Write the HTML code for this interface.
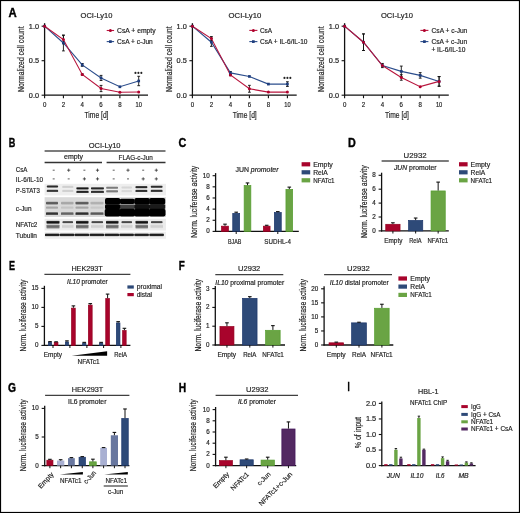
<!DOCTYPE html>
<html><head><meta charset="utf-8"><style>
html,body{margin:0;padding:0;background:#fff;}
body{width:520px;height:513px;overflow:hidden;}
svg{display:block;will-change:transform;}
svg text{font-family:"Liberation Sans", sans-serif;fill:#1e1e1e;stroke:#1e1e1e;stroke-width:0.18px;}
</style></head><body>
<svg width="520" height="513" viewBox="0 0 520 513">
<defs><linearGradient id="gv" x1="0" y1="0" x2="0" y2="1"><stop offset="0" stop-color="#000" stop-opacity="0"/><stop offset="0.28" stop-color="#000" stop-opacity="0.85"/><stop offset="0.5" stop-color="#000" stop-opacity="1"/><stop offset="0.72" stop-color="#000" stop-opacity="0.85"/><stop offset="1" stop-color="#000" stop-opacity="0"/></linearGradient></defs>
<rect x="0" y="0" width="520" height="513" fill="#fff"/>
<text x="8.60" y="16.90" font-size="12.6" font-weight="bold" textLength="8.20" lengthAdjust="spacingAndGlyphs" style="stroke:#000;stroke-width:0.4px;fill:#000">A</text>
<line x1="44.60" y1="23.20" x2="44.60" y2="95.80" stroke="#111" stroke-width="1.3"/>
<line x1="44.00" y1="95.20" x2="148.00" y2="95.20" stroke="#111" stroke-width="1.3"/>
<line x1="41.60" y1="26.20" x2="44.60" y2="26.20" stroke="#111" stroke-width="1.1"/>
<text x="39.00" y="28.50" font-size="6.7" text-anchor="end" textLength="10.20" lengthAdjust="spacingAndGlyphs">1.0</text>
<line x1="41.60" y1="60.70" x2="44.60" y2="60.70" stroke="#111" stroke-width="1.1"/>
<text x="39.00" y="63.00" font-size="6.7" text-anchor="end" textLength="10.20" lengthAdjust="spacingAndGlyphs">0.5</text>
<line x1="41.60" y1="95.20" x2="44.60" y2="95.20" stroke="#111" stroke-width="1.1"/>
<text x="39.00" y="97.50" font-size="6.7" text-anchor="end" textLength="10.20" lengthAdjust="spacingAndGlyphs">0.0</text>
<line x1="44.60" y1="95.20" x2="44.60" y2="98.20" stroke="#111" stroke-width="1.1"/>
<text x="44.60" y="106.60" font-size="6.6" text-anchor="middle" textLength="3.40" lengthAdjust="spacingAndGlyphs">0</text>
<line x1="63.42" y1="95.20" x2="63.42" y2="98.20" stroke="#111" stroke-width="1.1"/>
<text x="63.42" y="106.60" font-size="6.6" text-anchor="middle" textLength="3.40" lengthAdjust="spacingAndGlyphs">2</text>
<line x1="82.24" y1="95.20" x2="82.24" y2="98.20" stroke="#111" stroke-width="1.1"/>
<text x="82.24" y="106.60" font-size="6.6" text-anchor="middle" textLength="3.40" lengthAdjust="spacingAndGlyphs">4</text>
<line x1="101.06" y1="95.20" x2="101.06" y2="98.20" stroke="#111" stroke-width="1.1"/>
<text x="101.06" y="106.60" font-size="6.6" text-anchor="middle" textLength="3.40" lengthAdjust="spacingAndGlyphs">6</text>
<line x1="119.88" y1="95.20" x2="119.88" y2="98.20" stroke="#111" stroke-width="1.1"/>
<text x="119.88" y="106.60" font-size="6.6" text-anchor="middle" textLength="3.40" lengthAdjust="spacingAndGlyphs">8</text>
<line x1="138.70" y1="95.20" x2="138.70" y2="98.20" stroke="#111" stroke-width="1.1"/>
<text x="138.70" y="106.60" font-size="6.6" text-anchor="middle" textLength="6.40" lengthAdjust="spacingAndGlyphs">10</text>
<text x="96.50" y="118.20" font-size="8.4" text-anchor="middle" textLength="24.00" lengthAdjust="spacingAndGlyphs">Time [d]</text>
<text x="23.70" y="92.00" font-size="8.6" textLength="65.60" lengthAdjust="spacingAndGlyphs" transform="rotate(-90 23.70 92.00)">Normalized cell count</text>
<text x="96.50" y="17.60" font-size="7.2" text-anchor="middle" textLength="31.80" lengthAdjust="spacingAndGlyphs">OCI-Ly10</text>
<line x1="63.42" y1="35.03" x2="63.42" y2="50.90" stroke="#111" stroke-width="0.9"/>
<line x1="62.02" y1="35.03" x2="64.82" y2="35.03" stroke="#111" stroke-width="0.9"/>
<line x1="62.02" y1="50.90" x2="64.82" y2="50.90" stroke="#111" stroke-width="0.9"/>
<line x1="63.42" y1="35.38" x2="63.42" y2="43.66" stroke="#111" stroke-width="0.9"/>
<line x1="62.02" y1="35.38" x2="64.82" y2="35.38" stroke="#111" stroke-width="0.9"/>
<line x1="62.02" y1="43.66" x2="64.82" y2="43.66" stroke="#111" stroke-width="0.9"/>
<line x1="82.24" y1="63.53" x2="82.24" y2="66.29" stroke="#111" stroke-width="0.9"/>
<line x1="80.84" y1="63.53" x2="83.64" y2="63.53" stroke="#111" stroke-width="0.9"/>
<line x1="80.84" y1="66.29" x2="83.64" y2="66.29" stroke="#111" stroke-width="0.9"/>
<line x1="82.24" y1="73.81" x2="82.24" y2="75.19" stroke="#111" stroke-width="0.9"/>
<line x1="80.84" y1="73.81" x2="83.64" y2="73.81" stroke="#111" stroke-width="0.9"/>
<line x1="80.84" y1="75.19" x2="83.64" y2="75.19" stroke="#111" stroke-width="0.9"/>
<line x1="101.06" y1="75.40" x2="101.06" y2="80.50" stroke="#111" stroke-width="0.9"/>
<line x1="99.66" y1="75.40" x2="102.46" y2="75.40" stroke="#111" stroke-width="0.9"/>
<line x1="99.66" y1="80.50" x2="102.46" y2="80.50" stroke="#111" stroke-width="0.9"/>
<line x1="101.06" y1="85.40" x2="101.06" y2="91.61" stroke="#111" stroke-width="0.9"/>
<line x1="99.66" y1="85.40" x2="102.46" y2="85.40" stroke="#111" stroke-width="0.9"/>
<line x1="99.66" y1="91.61" x2="102.46" y2="91.61" stroke="#111" stroke-width="0.9"/>
<line x1="138.70" y1="76.29" x2="138.70" y2="85.68" stroke="#111" stroke-width="0.9"/>
<line x1="137.30" y1="76.29" x2="140.10" y2="76.29" stroke="#111" stroke-width="0.9"/>
<line x1="137.30" y1="85.68" x2="140.10" y2="85.68" stroke="#111" stroke-width="0.9"/>
<polyline points="44.60,26.20 63.42,42.97 82.24,64.91 101.06,77.95 119.88,86.78 138.70,80.99" fill="none" stroke="#2b4d8c" stroke-width="1.1"/>
<polyline points="44.60,26.20 63.42,39.52 82.24,74.50 101.06,88.51 119.88,92.30 138.70,92.03" fill="none" stroke="#b8163e" stroke-width="1.1"/>
<rect x="43.25" y="24.85" width="2.7" height="2.7" fill="#1d3c7c"/>
<rect x="62.07" y="41.62" width="2.7" height="2.7" fill="#1d3c7c"/>
<rect x="80.89" y="63.56" width="2.7" height="2.7" fill="#1d3c7c"/>
<rect x="99.71" y="76.60" width="2.7" height="2.7" fill="#1d3c7c"/>
<rect x="118.53" y="85.43" width="2.7" height="2.7" fill="#1d3c7c"/>
<rect x="137.35" y="79.64" width="2.7" height="2.7" fill="#1d3c7c"/>
<circle cx="44.60" cy="26.20" r="1.5" fill="#b0002c"/>
<circle cx="63.42" cy="39.52" r="1.5" fill="#b0002c"/>
<circle cx="82.24" cy="74.50" r="1.5" fill="#b0002c"/>
<circle cx="101.06" cy="88.51" r="1.5" fill="#b0002c"/>
<circle cx="119.88" cy="92.30" r="1.5" fill="#b0002c"/>
<circle cx="138.70" cy="92.03" r="1.5" fill="#b0002c"/>
<circle cx="135.45" cy="72.90" r="1.05" fill="#222"/>
<circle cx="138.40" cy="72.90" r="1.05" fill="#222"/>
<circle cx="141.35" cy="72.90" r="1.05" fill="#222"/>
<line x1="106.70" y1="30.50" x2="114.10" y2="30.50" stroke="#b8163e" stroke-width="1.1"/>
<circle cx="110.40" cy="30.50" r="1.5" fill="#b0002c"/>
<text x="117.10" y="32.80" font-size="6.8" textLength="38.50" lengthAdjust="spacingAndGlyphs">CsA + empty</text>
<line x1="106.70" y1="41.60" x2="114.10" y2="41.60" stroke="#2b4d8c" stroke-width="1.1"/>
<rect x="109.05" y="40.25" width="2.7" height="2.7" fill="#1d3c7c"/>
<text x="117.10" y="43.90" font-size="6.8" textLength="35.70" lengthAdjust="spacingAndGlyphs">CsA + c-Jun</text>
<line x1="192.40" y1="23.20" x2="192.40" y2="95.80" stroke="#111" stroke-width="1.3"/>
<line x1="191.80" y1="95.20" x2="296.70" y2="95.20" stroke="#111" stroke-width="1.3"/>
<line x1="189.40" y1="26.20" x2="192.40" y2="26.20" stroke="#111" stroke-width="1.1"/>
<text x="186.80" y="28.50" font-size="6.7" text-anchor="end" textLength="10.20" lengthAdjust="spacingAndGlyphs">1.0</text>
<line x1="189.40" y1="60.70" x2="192.40" y2="60.70" stroke="#111" stroke-width="1.1"/>
<text x="186.80" y="63.00" font-size="6.7" text-anchor="end" textLength="10.20" lengthAdjust="spacingAndGlyphs">0.5</text>
<line x1="189.40" y1="95.20" x2="192.40" y2="95.20" stroke="#111" stroke-width="1.1"/>
<text x="186.80" y="97.50" font-size="6.7" text-anchor="end" textLength="10.20" lengthAdjust="spacingAndGlyphs">0.0</text>
<line x1="192.40" y1="95.20" x2="192.40" y2="98.20" stroke="#111" stroke-width="1.1"/>
<text x="192.40" y="106.60" font-size="6.6" text-anchor="middle" textLength="3.40" lengthAdjust="spacingAndGlyphs">0</text>
<line x1="211.40" y1="95.20" x2="211.40" y2="98.20" stroke="#111" stroke-width="1.1"/>
<text x="211.40" y="106.60" font-size="6.6" text-anchor="middle" textLength="3.40" lengthAdjust="spacingAndGlyphs">2</text>
<line x1="230.40" y1="95.20" x2="230.40" y2="98.20" stroke="#111" stroke-width="1.1"/>
<text x="230.40" y="106.60" font-size="6.6" text-anchor="middle" textLength="3.40" lengthAdjust="spacingAndGlyphs">4</text>
<line x1="249.40" y1="95.20" x2="249.40" y2="98.20" stroke="#111" stroke-width="1.1"/>
<text x="249.40" y="106.60" font-size="6.6" text-anchor="middle" textLength="3.40" lengthAdjust="spacingAndGlyphs">6</text>
<line x1="268.40" y1="95.20" x2="268.40" y2="98.20" stroke="#111" stroke-width="1.1"/>
<text x="268.40" y="106.60" font-size="6.6" text-anchor="middle" textLength="3.40" lengthAdjust="spacingAndGlyphs">8</text>
<line x1="287.40" y1="95.20" x2="287.40" y2="98.20" stroke="#111" stroke-width="1.1"/>
<text x="287.40" y="106.60" font-size="6.6" text-anchor="middle" textLength="6.40" lengthAdjust="spacingAndGlyphs">10</text>
<text x="244.75" y="118.20" font-size="8.4" text-anchor="middle" textLength="24.00" lengthAdjust="spacingAndGlyphs">Time [d]</text>
<text x="171.50" y="92.00" font-size="8.6" textLength="65.60" lengthAdjust="spacingAndGlyphs" transform="rotate(-90 171.50 92.00)">Normalized cell count</text>
<text x="244.95" y="17.60" font-size="7.2" text-anchor="middle" textLength="32.70" lengthAdjust="spacingAndGlyphs">OCI-Ly10</text>
<line x1="211.40" y1="38.07" x2="211.40" y2="46.35" stroke="#111" stroke-width="0.9"/>
<line x1="210.00" y1="38.07" x2="212.80" y2="38.07" stroke="#111" stroke-width="0.9"/>
<line x1="210.00" y1="46.35" x2="212.80" y2="46.35" stroke="#111" stroke-width="0.9"/>
<line x1="211.40" y1="36.55" x2="211.40" y2="40.69" stroke="#111" stroke-width="0.9"/>
<line x1="210.00" y1="36.55" x2="212.80" y2="36.55" stroke="#111" stroke-width="0.9"/>
<line x1="210.00" y1="40.69" x2="212.80" y2="40.69" stroke="#111" stroke-width="0.9"/>
<line x1="230.40" y1="71.53" x2="230.40" y2="74.29" stroke="#111" stroke-width="0.9"/>
<line x1="229.00" y1="71.53" x2="231.80" y2="71.53" stroke="#111" stroke-width="0.9"/>
<line x1="229.00" y1="74.29" x2="231.80" y2="74.29" stroke="#111" stroke-width="0.9"/>
<line x1="230.40" y1="74.29" x2="230.40" y2="75.67" stroke="#111" stroke-width="0.9"/>
<line x1="229.00" y1="74.29" x2="231.80" y2="74.29" stroke="#111" stroke-width="0.9"/>
<line x1="229.00" y1="75.67" x2="231.80" y2="75.67" stroke="#111" stroke-width="0.9"/>
<line x1="249.40" y1="85.33" x2="249.40" y2="92.23" stroke="#111" stroke-width="0.9"/>
<line x1="248.00" y1="85.33" x2="250.80" y2="85.33" stroke="#111" stroke-width="0.9"/>
<line x1="248.00" y1="92.23" x2="250.80" y2="92.23" stroke="#111" stroke-width="0.9"/>
<line x1="287.40" y1="81.75" x2="287.40" y2="86.44" stroke="#111" stroke-width="0.9"/>
<line x1="286.00" y1="81.75" x2="288.80" y2="81.75" stroke="#111" stroke-width="0.9"/>
<line x1="286.00" y1="86.44" x2="288.80" y2="86.44" stroke="#111" stroke-width="0.9"/>
<polyline points="192.40,26.20 211.40,42.21 230.40,72.91 249.40,76.43 268.40,84.09 287.40,84.09" fill="none" stroke="#2b4d8c" stroke-width="1.1"/>
<polyline points="192.40,26.20 211.40,38.62 230.40,74.98 249.40,88.78 268.40,92.09 287.40,92.09" fill="none" stroke="#b8163e" stroke-width="1.1"/>
<rect x="191.05" y="24.85" width="2.7" height="2.7" fill="#1d3c7c"/>
<rect x="210.05" y="40.86" width="2.7" height="2.7" fill="#1d3c7c"/>
<rect x="229.05" y="71.56" width="2.7" height="2.7" fill="#1d3c7c"/>
<rect x="248.05" y="75.08" width="2.7" height="2.7" fill="#1d3c7c"/>
<rect x="267.05" y="82.74" width="2.7" height="2.7" fill="#1d3c7c"/>
<rect x="286.05" y="82.74" width="2.7" height="2.7" fill="#1d3c7c"/>
<circle cx="192.40" cy="26.20" r="1.5" fill="#b0002c"/>
<circle cx="211.40" cy="38.62" r="1.5" fill="#b0002c"/>
<circle cx="230.40" cy="74.98" r="1.5" fill="#b0002c"/>
<circle cx="249.40" cy="88.78" r="1.5" fill="#b0002c"/>
<circle cx="268.40" cy="92.09" r="1.5" fill="#b0002c"/>
<circle cx="287.40" cy="92.09" r="1.5" fill="#b0002c"/>
<circle cx="284.45" cy="77.90" r="1.05" fill="#222"/>
<circle cx="287.40" cy="77.90" r="1.05" fill="#222"/>
<circle cx="290.35" cy="77.90" r="1.05" fill="#222"/>
<line x1="249.30" y1="30.40" x2="257.40" y2="30.40" stroke="#b8163e" stroke-width="1.1"/>
<circle cx="253.35" cy="30.40" r="1.5" fill="#b0002c"/>
<text x="259.90" y="32.70" font-size="6.8" textLength="12.20" lengthAdjust="spacingAndGlyphs">CsA</text>
<line x1="249.30" y1="41.60" x2="257.40" y2="41.60" stroke="#2b4d8c" stroke-width="1.1"/>
<rect x="252.00" y="40.25" width="2.7" height="2.7" fill="#1d3c7c"/>
<text x="259.90" y="43.90" font-size="6.8" textLength="47.60" lengthAdjust="spacingAndGlyphs">CsA + IL-6/IL-10</text>
<line x1="344.60" y1="23.20" x2="344.60" y2="95.80" stroke="#111" stroke-width="1.3"/>
<line x1="344.00" y1="95.20" x2="448.80" y2="95.20" stroke="#111" stroke-width="1.3"/>
<line x1="341.60" y1="26.20" x2="344.60" y2="26.20" stroke="#111" stroke-width="1.1"/>
<text x="339.00" y="28.50" font-size="6.7" text-anchor="end" textLength="10.20" lengthAdjust="spacingAndGlyphs">1.0</text>
<line x1="341.60" y1="60.70" x2="344.60" y2="60.70" stroke="#111" stroke-width="1.1"/>
<text x="339.00" y="63.00" font-size="6.7" text-anchor="end" textLength="10.20" lengthAdjust="spacingAndGlyphs">0.5</text>
<line x1="341.60" y1="95.20" x2="344.60" y2="95.20" stroke="#111" stroke-width="1.1"/>
<text x="339.00" y="97.50" font-size="6.7" text-anchor="end" textLength="10.20" lengthAdjust="spacingAndGlyphs">0.0</text>
<line x1="344.60" y1="95.20" x2="344.60" y2="98.20" stroke="#111" stroke-width="1.1"/>
<text x="344.60" y="106.60" font-size="6.6" text-anchor="middle" textLength="3.40" lengthAdjust="spacingAndGlyphs">0</text>
<line x1="363.50" y1="95.20" x2="363.50" y2="98.20" stroke="#111" stroke-width="1.1"/>
<text x="363.50" y="106.60" font-size="6.6" text-anchor="middle" textLength="3.40" lengthAdjust="spacingAndGlyphs">2</text>
<line x1="382.40" y1="95.20" x2="382.40" y2="98.20" stroke="#111" stroke-width="1.1"/>
<text x="382.40" y="106.60" font-size="6.6" text-anchor="middle" textLength="3.40" lengthAdjust="spacingAndGlyphs">4</text>
<line x1="401.30" y1="95.20" x2="401.30" y2="98.20" stroke="#111" stroke-width="1.1"/>
<text x="401.30" y="106.60" font-size="6.6" text-anchor="middle" textLength="3.40" lengthAdjust="spacingAndGlyphs">6</text>
<line x1="420.20" y1="95.20" x2="420.20" y2="98.20" stroke="#111" stroke-width="1.1"/>
<text x="420.20" y="106.60" font-size="6.6" text-anchor="middle" textLength="3.40" lengthAdjust="spacingAndGlyphs">8</text>
<line x1="439.10" y1="95.20" x2="439.10" y2="98.20" stroke="#111" stroke-width="1.1"/>
<text x="439.10" y="106.60" font-size="6.6" text-anchor="middle" textLength="6.40" lengthAdjust="spacingAndGlyphs">10</text>
<text x="396.90" y="118.20" font-size="8.4" text-anchor="middle" textLength="24.00" lengthAdjust="spacingAndGlyphs">Time [d]</text>
<text x="323.70" y="92.00" font-size="8.6" textLength="65.60" lengthAdjust="spacingAndGlyphs" transform="rotate(-90 323.70 92.00)">Normalized cell count</text>
<text x="397.00" y="17.60" font-size="7.2" text-anchor="middle" textLength="32.00" lengthAdjust="spacingAndGlyphs">OCI-Ly10</text>
<line x1="363.50" y1="33.93" x2="363.50" y2="50.49" stroke="#111" stroke-width="0.9"/>
<line x1="362.10" y1="33.93" x2="364.90" y2="33.93" stroke="#111" stroke-width="0.9"/>
<line x1="362.10" y1="50.49" x2="364.90" y2="50.49" stroke="#111" stroke-width="0.9"/>
<line x1="363.50" y1="33.93" x2="363.50" y2="50.49" stroke="#111" stroke-width="0.9"/>
<line x1="362.10" y1="33.93" x2="364.90" y2="33.93" stroke="#111" stroke-width="0.9"/>
<line x1="362.10" y1="50.49" x2="364.90" y2="50.49" stroke="#111" stroke-width="0.9"/>
<line x1="382.40" y1="63.46" x2="382.40" y2="67.60" stroke="#111" stroke-width="0.9"/>
<line x1="381.00" y1="63.46" x2="383.80" y2="63.46" stroke="#111" stroke-width="0.9"/>
<line x1="381.00" y1="67.60" x2="383.80" y2="67.60" stroke="#111" stroke-width="0.9"/>
<line x1="401.30" y1="66.08" x2="401.30" y2="76.71" stroke="#111" stroke-width="0.9"/>
<line x1="399.90" y1="66.08" x2="402.70" y2="66.08" stroke="#111" stroke-width="0.9"/>
<line x1="399.90" y1="76.71" x2="402.70" y2="76.71" stroke="#111" stroke-width="0.9"/>
<line x1="401.30" y1="74.71" x2="401.30" y2="80.23" stroke="#111" stroke-width="0.9"/>
<line x1="399.90" y1="74.71" x2="402.70" y2="74.71" stroke="#111" stroke-width="0.9"/>
<line x1="399.90" y1="80.23" x2="402.70" y2="80.23" stroke="#111" stroke-width="0.9"/>
<line x1="420.20" y1="72.64" x2="420.20" y2="78.16" stroke="#111" stroke-width="0.9"/>
<line x1="418.80" y1="72.64" x2="421.60" y2="72.64" stroke="#111" stroke-width="0.9"/>
<line x1="418.80" y1="78.16" x2="421.60" y2="78.16" stroke="#111" stroke-width="0.9"/>
<line x1="439.10" y1="76.57" x2="439.10" y2="86.23" stroke="#111" stroke-width="0.9"/>
<line x1="437.70" y1="76.57" x2="440.50" y2="76.57" stroke="#111" stroke-width="0.9"/>
<line x1="437.70" y1="86.23" x2="440.50" y2="86.23" stroke="#111" stroke-width="0.9"/>
<line x1="439.10" y1="76.57" x2="439.10" y2="86.23" stroke="#111" stroke-width="0.9"/>
<line x1="437.70" y1="76.57" x2="440.50" y2="76.57" stroke="#111" stroke-width="0.9"/>
<line x1="437.70" y1="86.23" x2="440.50" y2="86.23" stroke="#111" stroke-width="0.9"/>
<polyline points="344.60,26.20 363.50,42.21 382.40,65.53 401.30,71.40 420.20,75.40 439.10,81.40" fill="none" stroke="#2b4d8c" stroke-width="1.1"/>
<polyline points="344.60,26.20 363.50,42.21 382.40,65.53 401.30,77.47 420.20,86.64 439.10,81.40" fill="none" stroke="#b8163e" stroke-width="1.1"/>
<rect x="343.25" y="24.85" width="2.7" height="2.7" fill="#1d3c7c"/>
<rect x="362.15" y="40.86" width="2.7" height="2.7" fill="#1d3c7c"/>
<rect x="381.05" y="64.18" width="2.7" height="2.7" fill="#1d3c7c"/>
<rect x="399.95" y="70.05" width="2.7" height="2.7" fill="#1d3c7c"/>
<rect x="418.85" y="74.05" width="2.7" height="2.7" fill="#1d3c7c"/>
<rect x="437.75" y="80.05" width="2.7" height="2.7" fill="#1d3c7c"/>
<circle cx="344.60" cy="26.20" r="1.5" fill="#b0002c"/>
<circle cx="363.50" cy="42.21" r="1.5" fill="#b0002c"/>
<circle cx="382.40" cy="65.53" r="1.5" fill="#b0002c"/>
<circle cx="401.30" cy="77.47" r="1.5" fill="#b0002c"/>
<circle cx="420.20" cy="86.64" r="1.5" fill="#b0002c"/>
<circle cx="439.10" cy="81.40" r="1.5" fill="#b0002c"/>
<line x1="420.40" y1="30.40" x2="428.40" y2="30.40" stroke="#b8163e" stroke-width="1.1"/>
<circle cx="424.40" cy="30.40" r="1.5" fill="#b0002c"/>
<text x="431.60" y="32.70" font-size="6.8" textLength="35.70" lengthAdjust="spacingAndGlyphs">CsA + c-Jun</text>
<line x1="420.40" y1="41.60" x2="428.40" y2="41.60" stroke="#2b4d8c" stroke-width="1.1"/>
<rect x="423.05" y="40.25" width="2.7" height="2.7" fill="#1d3c7c"/>
<text x="431.40" y="43.90" font-size="6.8" textLength="35.70" lengthAdjust="spacingAndGlyphs">CsA + c-Jun</text>
<text x="431.40" y="52.00" font-size="6.8" textLength="34.00" lengthAdjust="spacingAndGlyphs">+ IL-6/IL-10</text>
<text x="8.70" y="146.60" font-size="12.6" font-weight="bold" textLength="6.60" lengthAdjust="spacingAndGlyphs" style="stroke:#000;stroke-width:0.4px;fill:#000">B</text>
<text x="104.60" y="147.80" font-size="7.9" text-anchor="middle" textLength="31.90" lengthAdjust="spacingAndGlyphs">OCI-Ly10</text>
<line x1="44.60" y1="150.90" x2="165.50" y2="150.90" stroke="#505050" stroke-width="1.5"/>
<text x="73.50" y="159.20" font-size="7" text-anchor="middle" textLength="19.00" lengthAdjust="spacingAndGlyphs">empty</text>
<text x="135.70" y="160.00" font-size="7" text-anchor="middle" textLength="34.20" lengthAdjust="spacingAndGlyphs">FLAG-c-Jun</text>
<line x1="44.60" y1="162.50" x2="102.00" y2="162.50" stroke="#333" stroke-width="1.3"/>
<line x1="106.60" y1="162.50" x2="165.50" y2="162.50" stroke="#333" stroke-width="1.3"/>
<line x1="52.70" y1="170.20" x2="54.70" y2="170.20" stroke="#333" stroke-width="0.8"/>
<line x1="52.70" y1="178.90" x2="54.70" y2="178.90" stroke="#333" stroke-width="0.8"/>
<line x1="67.10" y1="170.20" x2="70.30" y2="170.20" stroke="#333" stroke-width="0.8"/>
<line x1="68.70" y1="168.60" x2="68.70" y2="171.80" stroke="#333" stroke-width="0.8"/>
<line x1="67.70" y1="178.90" x2="69.70" y2="178.90" stroke="#333" stroke-width="0.8"/>
<line x1="83.40" y1="170.20" x2="85.40" y2="170.20" stroke="#333" stroke-width="0.8"/>
<line x1="82.80" y1="178.90" x2="86.00" y2="178.90" stroke="#333" stroke-width="0.8"/>
<line x1="84.40" y1="177.30" x2="84.40" y2="180.50" stroke="#333" stroke-width="0.8"/>
<line x1="95.90" y1="170.20" x2="99.10" y2="170.20" stroke="#333" stroke-width="0.8"/>
<line x1="97.50" y1="168.60" x2="97.50" y2="171.80" stroke="#333" stroke-width="0.8"/>
<line x1="95.90" y1="178.90" x2="99.10" y2="178.90" stroke="#333" stroke-width="0.8"/>
<line x1="97.50" y1="177.30" x2="97.50" y2="180.50" stroke="#333" stroke-width="0.8"/>
<line x1="112.70" y1="170.20" x2="114.70" y2="170.20" stroke="#333" stroke-width="0.8"/>
<line x1="112.70" y1="178.90" x2="114.70" y2="178.90" stroke="#333" stroke-width="0.8"/>
<line x1="126.40" y1="170.20" x2="129.60" y2="170.20" stroke="#333" stroke-width="0.8"/>
<line x1="128.00" y1="168.60" x2="128.00" y2="171.80" stroke="#333" stroke-width="0.8"/>
<line x1="127.00" y1="178.90" x2="129.00" y2="178.90" stroke="#333" stroke-width="0.8"/>
<line x1="142.20" y1="170.20" x2="144.20" y2="170.20" stroke="#333" stroke-width="0.8"/>
<line x1="141.60" y1="178.90" x2="144.80" y2="178.90" stroke="#333" stroke-width="0.8"/>
<line x1="143.20" y1="177.30" x2="143.20" y2="180.50" stroke="#333" stroke-width="0.8"/>
<line x1="154.70" y1="170.20" x2="157.90" y2="170.20" stroke="#333" stroke-width="0.8"/>
<line x1="156.30" y1="168.60" x2="156.30" y2="171.80" stroke="#333" stroke-width="0.8"/>
<line x1="154.70" y1="178.90" x2="157.90" y2="178.90" stroke="#333" stroke-width="0.8"/>
<line x1="156.30" y1="177.30" x2="156.30" y2="180.50" stroke="#333" stroke-width="0.8"/>
<text x="15.80" y="172.40" font-size="7" textLength="11.60" lengthAdjust="spacingAndGlyphs">CsA</text>
<text x="15.80" y="181.50" font-size="7" textLength="27.30" lengthAdjust="spacingAndGlyphs">IL-6/IL-10</text>
<text x="15.80" y="193.10" font-size="7" textLength="24.00" lengthAdjust="spacingAndGlyphs">P-STAT3</text>
<text x="15.80" y="211.00" font-size="7" textLength="15.70" lengthAdjust="spacingAndGlyphs">c-Jun</text>
<text x="15.80" y="227.00" font-size="7" textLength="21.50" lengthAdjust="spacingAndGlyphs">NFATc2</text>
<text x="15.80" y="237.80" font-size="7" textLength="21.20" lengthAdjust="spacingAndGlyphs">Tubulin</text>
<rect x="44.60" y="183.80" width="121.40" height="11.60" fill="#eeeeee"/>
<rect x="44.60" y="197.20" width="121.40" height="19.80" fill="#d9d9d9"/>
<rect x="44.60" y="218.80" width="121.40" height="11.70" fill="#ececec"/>
<rect x="44.60" y="231.80" width="121.40" height="7.00" fill="#efefef"/>
<rect x="46.80" y="184.95" width="11.30" height="3.10" rx="1.2" fill="url(#gv)" opacity="0.82"/>
<rect x="46.80" y="189.20" width="11.30" height="3.20" rx="1.2" fill="url(#gv)" opacity="0.82"/>
<rect x="62.30" y="185.25" width="11.00" height="3.10" rx="1.2" fill="url(#gv)" opacity="0.14"/>
<rect x="62.30" y="189.30" width="11.00" height="3.20" rx="1.2" fill="url(#gv)" opacity="0.14"/>
<rect x="76.40" y="186.85" width="12.20" height="3.10" rx="1.2" fill="url(#gv)" opacity="0.92"/>
<rect x="76.40" y="190.20" width="12.20" height="3.20" rx="1.2" fill="url(#gv)" opacity="0.92"/>
<rect x="91.00" y="186.85" width="12.90" height="3.10" rx="1.2" fill="url(#gv)" opacity="0.86"/>
<rect x="91.00" y="190.20" width="12.90" height="3.20" rx="1.2" fill="url(#gv)" opacity="0.86"/>
<rect x="106.20" y="186.15" width="11.80" height="3.10" rx="1.2" fill="url(#gv)" opacity="0.50"/>
<rect x="106.20" y="189.70" width="11.80" height="3.20" rx="1.2" fill="url(#gv)" opacity="0.50"/>
<rect x="121.50" y="185.95" width="10.50" height="3.10" rx="1.2" fill="url(#gv)" opacity="0.10"/>
<rect x="121.50" y="189.50" width="10.50" height="3.20" rx="1.2" fill="url(#gv)" opacity="0.10"/>
<rect x="135.50" y="185.65" width="11.80" height="3.10" rx="1.2" fill="url(#gv)" opacity="0.88"/>
<rect x="135.50" y="189.30" width="11.80" height="3.20" rx="1.2" fill="url(#gv)" opacity="0.88"/>
<rect x="150.80" y="185.15" width="11.70" height="3.10" rx="1.2" fill="url(#gv)" opacity="0.85"/>
<rect x="150.80" y="189.20" width="11.70" height="3.20" rx="1.2" fill="url(#gv)" opacity="0.85"/>
<rect x="46.00" y="201.20" width="12.00" height="3.80" rx="1.2" fill="url(#gv)" opacity="0.62"/>
<rect x="46.00" y="206.00" width="12.00" height="3.20" rx="1.2" fill="url(#gv)" opacity="0.24"/>
<rect x="46.00" y="211.70" width="12.00" height="3.80" rx="1.2" fill="url(#gv)" opacity="0.78"/>
<rect x="61.00" y="201.20" width="12.50" height="3.80" rx="1.2" fill="url(#gv)" opacity="0.25"/>
<rect x="61.00" y="206.00" width="12.50" height="3.20" rx="1.2" fill="url(#gv)" opacity="0.10"/>
<rect x="61.00" y="211.70" width="12.50" height="3.80" rx="1.2" fill="url(#gv)" opacity="0.55"/>
<rect x="75.50" y="201.20" width="13.00" height="3.80" rx="1.2" fill="url(#gv)" opacity="0.62"/>
<rect x="75.50" y="206.00" width="13.00" height="3.20" rx="1.2" fill="url(#gv)" opacity="0.24"/>
<rect x="75.50" y="211.70" width="13.00" height="3.80" rx="1.2" fill="url(#gv)" opacity="0.80"/>
<rect x="90.50" y="201.20" width="13.00" height="3.80" rx="1.2" fill="url(#gv)" opacity="0.20"/>
<rect x="90.50" y="206.00" width="13.00" height="3.20" rx="1.2" fill="url(#gv)" opacity="0.08"/>
<rect x="90.50" y="211.70" width="13.00" height="3.80" rx="1.2" fill="url(#gv)" opacity="0.60"/>
<rect x="105.00" y="198.00" width="15.20" height="6.80" rx="1.8" fill="#000"/>
<rect x="105.00" y="204.4" width="15.20" height="4.6" rx="1" fill="#000" opacity="1.0"/>
<rect x="104.70" y="208.8" width="15.80" height="7.6" rx="2" fill="#000"/>
<rect x="119.60" y="198.80" width="15.20" height="5.20" rx="1.8" fill="#000"/>
<rect x="119.60" y="204.4" width="15.20" height="4.6" rx="1" fill="#000" opacity="0.7"/>
<rect x="119.30" y="208.8" width="15.80" height="7.6" rx="2" fill="#000"/>
<rect x="134.40" y="198.00" width="15.40" height="6.80" rx="1.8" fill="#000"/>
<rect x="134.40" y="204.4" width="15.40" height="4.6" rx="1" fill="#000" opacity="0.92"/>
<rect x="134.10" y="208.8" width="16.00" height="7.6" rx="2" fill="#000"/>
<rect x="149.20" y="198.00" width="16.00" height="6.80" rx="1.8" fill="#000"/>
<rect x="149.20" y="204.4" width="16.00" height="4.6" rx="1" fill="#000" opacity="0.88"/>
<rect x="148.90" y="208.8" width="16.60" height="7.6" rx="2" fill="#000"/>
<rect x="46.50" y="220.30" width="13.00" height="4.00" rx="1.2" fill="url(#gv)" opacity="0.95"/>
<rect x="46.50" y="224.10" width="13.00" height="5.00" rx="1.2" fill="url(#gv)" opacity="0.55"/>
<rect x="62.50" y="220.70" width="10.50" height="3.00" rx="1.2" fill="url(#gv)" opacity="0.75"/>
<rect x="62.00" y="224.10" width="11.50" height="4.60" rx="1.2" fill="url(#gv)" opacity="0.12"/>
<rect x="76.00" y="220.30" width="12.50" height="4.00" rx="1.2" fill="url(#gv)" opacity="0.95"/>
<rect x="76.00" y="224.10" width="12.50" height="5.00" rx="1.2" fill="url(#gv)" opacity="0.55"/>
<rect x="91.50" y="220.70" width="11.50" height="3.00" rx="1.2" fill="url(#gv)" opacity="0.75"/>
<rect x="91.00" y="224.10" width="12.50" height="4.60" rx="1.2" fill="url(#gv)" opacity="0.12"/>
<rect x="106.00" y="220.30" width="12.50" height="4.00" rx="1.2" fill="url(#gv)" opacity="0.95"/>
<rect x="106.00" y="224.10" width="12.50" height="5.00" rx="1.2" fill="url(#gv)" opacity="0.55"/>
<rect x="121.50" y="220.70" width="10.50" height="3.00" rx="1.2" fill="url(#gv)" opacity="0.75"/>
<rect x="121.00" y="224.10" width="11.50" height="4.60" rx="1.2" fill="url(#gv)" opacity="0.12"/>
<rect x="135.50" y="220.30" width="12.50" height="4.00" rx="1.2" fill="url(#gv)" opacity="0.95"/>
<rect x="135.50" y="224.10" width="12.50" height="5.00" rx="1.2" fill="url(#gv)" opacity="0.55"/>
<rect x="151.00" y="220.70" width="11.50" height="3.00" rx="1.2" fill="url(#gv)" opacity="0.75"/>
<rect x="150.50" y="224.10" width="12.50" height="4.60" rx="1.2" fill="url(#gv)" opacity="0.12"/>
<rect x="45.00" y="233.10" width="14.40" height="3.60" rx="1.2" fill="url(#gv)" opacity="0.95"/>
<rect x="59.80" y="233.10" width="14.40" height="3.60" rx="1.2" fill="url(#gv)" opacity="0.95"/>
<rect x="74.60" y="233.10" width="14.40" height="3.60" rx="1.2" fill="url(#gv)" opacity="0.95"/>
<rect x="89.60" y="233.10" width="14.40" height="3.60" rx="1.2" fill="url(#gv)" opacity="0.95"/>
<rect x="104.60" y="233.10" width="14.40" height="3.60" rx="1.2" fill="url(#gv)" opacity="0.95"/>
<rect x="119.40" y="233.10" width="14.40" height="3.60" rx="1.2" fill="url(#gv)" opacity="0.95"/>
<rect x="134.40" y="233.10" width="14.40" height="3.60" rx="1.2" fill="url(#gv)" opacity="0.95"/>
<rect x="149.40" y="233.10" width="14.40" height="3.60" rx="1.2" fill="url(#gv)" opacity="0.95"/>
<text x="178.40" y="146.60" font-size="12.6" font-weight="bold" textLength="7.80" lengthAdjust="spacingAndGlyphs" style="stroke:#000;stroke-width:0.4px;fill:#000">C</text>
<line x1="215.60" y1="173.10" x2="215.60" y2="232.00" stroke="#111" stroke-width="1.3"/>
<line x1="215.00" y1="231.40" x2="298.80" y2="231.40" stroke="#111" stroke-width="1.3"/>
<line x1="212.60" y1="231.40" x2="215.60" y2="231.40" stroke="#111" stroke-width="1.1"/>
<text x="209.70" y="233.40" font-size="6.6" text-anchor="end" textLength="3.50" lengthAdjust="spacingAndGlyphs">0</text>
<line x1="212.60" y1="220.26" x2="215.60" y2="220.26" stroke="#111" stroke-width="1.1"/>
<text x="209.70" y="222.26" font-size="6.6" text-anchor="end" textLength="3.50" lengthAdjust="spacingAndGlyphs">2</text>
<line x1="212.60" y1="209.12" x2="215.60" y2="209.12" stroke="#111" stroke-width="1.1"/>
<text x="209.70" y="211.12" font-size="6.6" text-anchor="end" textLength="3.50" lengthAdjust="spacingAndGlyphs">4</text>
<line x1="212.60" y1="197.98" x2="215.60" y2="197.98" stroke="#111" stroke-width="1.1"/>
<text x="209.70" y="199.98" font-size="6.6" text-anchor="end" textLength="3.50" lengthAdjust="spacingAndGlyphs">6</text>
<line x1="212.60" y1="186.84" x2="215.60" y2="186.84" stroke="#111" stroke-width="1.1"/>
<text x="209.70" y="188.84" font-size="6.6" text-anchor="end" textLength="3.50" lengthAdjust="spacingAndGlyphs">8</text>
<line x1="212.60" y1="175.70" x2="215.60" y2="175.70" stroke="#111" stroke-width="1.1"/>
<text x="209.70" y="177.70" font-size="6.6" text-anchor="end" textLength="7.00" lengthAdjust="spacingAndGlyphs">10</text>
<text x="257.00" y="172.00" font-size="6.6" text-anchor="middle" textLength="43.00" lengthAdjust="spacingAndGlyphs">JUN <tspan font-style="italic">promoter</tspan></text>
<text x="196.60" y="237.80" font-size="8.3" textLength="72.00" lengthAdjust="spacingAndGlyphs" transform="rotate(-90 196.60 237.80)">Norm. luciferase activity</text>
<rect x="221.55" y="226.18" width="6.90" height="5.22" fill="#a8042c" stroke="#94001f" stroke-width="0.7"/>
<line x1="225.00" y1="225.83" x2="225.00" y2="224.16" stroke="#111" stroke-width="1.0"/>
<line x1="223.20" y1="224.16" x2="226.80" y2="224.16" stroke="#111" stroke-width="1.1"/>
<rect x="232.75" y="213.37" width="6.90" height="18.03" fill="#2e4a78" stroke="#1b356a" stroke-width="0.7"/>
<line x1="236.20" y1="213.02" x2="236.20" y2="212.18" stroke="#111" stroke-width="1.0"/>
<line x1="234.40" y1="212.18" x2="238.00" y2="212.18" stroke="#111" stroke-width="1.1"/>
<rect x="244.15" y="185.52" width="6.70" height="45.88" fill="#6aa444" stroke="#559d2e" stroke-width="0.7"/>
<line x1="247.50" y1="185.17" x2="247.50" y2="182.94" stroke="#111" stroke-width="1.0"/>
<line x1="245.70" y1="182.94" x2="249.30" y2="182.94" stroke="#111" stroke-width="1.1"/>
<rect x="263.35" y="226.18" width="6.70" height="5.22" fill="#a8042c" stroke="#94001f" stroke-width="0.7"/>
<line x1="266.70" y1="225.83" x2="266.70" y2="225.27" stroke="#111" stroke-width="1.0"/>
<line x1="264.90" y1="225.27" x2="268.50" y2="225.27" stroke="#111" stroke-width="1.1"/>
<rect x="274.35" y="212.53" width="6.90" height="18.87" fill="#2e4a78" stroke="#1b356a" stroke-width="0.7"/>
<line x1="277.80" y1="212.18" x2="277.80" y2="211.63" stroke="#111" stroke-width="1.0"/>
<line x1="276.00" y1="211.63" x2="279.60" y2="211.63" stroke="#111" stroke-width="1.1"/>
<rect x="285.95" y="189.42" width="6.70" height="41.98" fill="#6aa444" stroke="#559d2e" stroke-width="0.7"/>
<line x1="289.30" y1="189.07" x2="289.30" y2="187.12" stroke="#111" stroke-width="1.0"/>
<line x1="287.50" y1="187.12" x2="291.10" y2="187.12" stroke="#111" stroke-width="1.1"/>
<line x1="236.20" y1="231.40" x2="236.20" y2="234.00" stroke="#111" stroke-width="1.0"/>
<line x1="277.80" y1="231.40" x2="277.80" y2="234.00" stroke="#111" stroke-width="1.0"/>
<text x="234.60" y="243.50" font-size="6.8" text-anchor="middle" textLength="13.40" lengthAdjust="spacingAndGlyphs">BJAB</text>
<text x="277.60" y="243.50" font-size="6.8" text-anchor="middle" textLength="26.60" lengthAdjust="spacingAndGlyphs">SUDHL-4</text>
<rect x="301.60" y="162.20" width="8.60" height="4.20" fill="#a8042c"/>
<text x="313.20" y="166.70" font-size="7" textLength="19.60" lengthAdjust="spacingAndGlyphs">Empty</text>
<rect x="301.60" y="170.20" width="8.60" height="4.20" fill="#2e4a78"/>
<text x="313.20" y="174.70" font-size="7" textLength="14.60" lengthAdjust="spacingAndGlyphs">RelA</text>
<rect x="301.60" y="178.20" width="8.60" height="4.20" fill="#6aa444"/>
<text x="313.20" y="182.70" font-size="7" textLength="21.40" lengthAdjust="spacingAndGlyphs">NFATc1</text>
<text x="348.00" y="146.60" font-size="12.6" font-weight="bold" textLength="7.80" lengthAdjust="spacingAndGlyphs" style="stroke:#000;stroke-width:0.4px;fill:#000">D</text>
<line x1="381.60" y1="172.70" x2="381.60" y2="231.50" stroke="#111" stroke-width="1.3"/>
<line x1="381.00" y1="230.90" x2="448.80" y2="230.90" stroke="#111" stroke-width="1.3"/>
<line x1="378.60" y1="230.90" x2="381.60" y2="230.90" stroke="#111" stroke-width="1.1"/>
<text x="375.70" y="232.90" font-size="6.6" text-anchor="end" textLength="3.50" lengthAdjust="spacingAndGlyphs">0</text>
<line x1="378.60" y1="217.00" x2="381.60" y2="217.00" stroke="#111" stroke-width="1.1"/>
<text x="375.70" y="219.00" font-size="6.6" text-anchor="end" textLength="3.50" lengthAdjust="spacingAndGlyphs">2</text>
<line x1="378.60" y1="203.10" x2="381.60" y2="203.10" stroke="#111" stroke-width="1.1"/>
<text x="375.70" y="205.10" font-size="6.6" text-anchor="end" textLength="3.50" lengthAdjust="spacingAndGlyphs">4</text>
<line x1="378.60" y1="189.20" x2="381.60" y2="189.20" stroke="#111" stroke-width="1.1"/>
<text x="375.70" y="191.20" font-size="6.6" text-anchor="end" textLength="3.50" lengthAdjust="spacingAndGlyphs">6</text>
<line x1="378.60" y1="175.30" x2="381.60" y2="175.30" stroke="#111" stroke-width="1.1"/>
<text x="375.70" y="177.30" font-size="6.6" text-anchor="end" textLength="3.50" lengthAdjust="spacingAndGlyphs">8</text>
<text x="415.10" y="157.70" font-size="7.9" text-anchor="middle" textLength="23.00" lengthAdjust="spacingAndGlyphs">U2932</text>
<line x1="381.60" y1="161.00" x2="448.80" y2="161.00" stroke="#505050" stroke-width="1.5"/>
<text x="415.20" y="170.20" font-size="6.6" text-anchor="middle" textLength="42.60" lengthAdjust="spacingAndGlyphs"><tspan font-style="italic">JUN</tspan> promoter</text>
<text x="366.60" y="238.00" font-size="8.3" textLength="72.60" lengthAdjust="spacingAndGlyphs" transform="rotate(-90 366.60 238.00)">Norm. luciferase activity</text>
<rect x="385.75" y="224.30" width="14.30" height="6.60" fill="#a8042c" stroke="#94001f" stroke-width="0.7"/>
<line x1="392.90" y1="223.95" x2="392.90" y2="222.77" stroke="#111" stroke-width="1.0"/>
<line x1="391.10" y1="222.77" x2="394.70" y2="222.77" stroke="#111" stroke-width="1.1"/>
<line x1="392.90" y1="230.90" x2="392.90" y2="233.50" stroke="#111" stroke-width="1.0"/>
<rect x="408.55" y="220.48" width="14.20" height="10.42" fill="#2e4a78" stroke="#1b356a" stroke-width="0.7"/>
<line x1="415.65" y1="220.13" x2="415.65" y2="218.04" stroke="#111" stroke-width="1.0"/>
<line x1="413.85" y1="218.04" x2="417.45" y2="218.04" stroke="#111" stroke-width="1.1"/>
<line x1="415.65" y1="230.90" x2="415.65" y2="233.50" stroke="#111" stroke-width="1.0"/>
<rect x="431.05" y="190.94" width="14.20" height="39.96" fill="#6aa444" stroke="#559d2e" stroke-width="0.7"/>
<line x1="438.15" y1="190.59" x2="438.15" y2="182.11" stroke="#111" stroke-width="1.0"/>
<line x1="436.35" y1="182.11" x2="439.95" y2="182.11" stroke="#111" stroke-width="1.1"/>
<line x1="438.15" y1="230.90" x2="438.15" y2="233.50" stroke="#111" stroke-width="1.0"/>
<text x="393.30" y="243.00" font-size="6.8" text-anchor="middle" textLength="18.20" lengthAdjust="spacingAndGlyphs">Empty</text>
<text x="415.40" y="243.00" font-size="6.8" text-anchor="middle" textLength="12.40" lengthAdjust="spacingAndGlyphs">RelA</text>
<text x="437.80" y="243.00" font-size="6.8" text-anchor="middle" textLength="20.60" lengthAdjust="spacingAndGlyphs">NFATc1</text>
<rect x="459.00" y="162.20" width="8.60" height="4.20" fill="#a8042c"/>
<text x="470.60" y="166.70" font-size="7" textLength="19.60" lengthAdjust="spacingAndGlyphs">Empty</text>
<rect x="459.00" y="170.20" width="8.60" height="4.20" fill="#2e4a78"/>
<text x="470.60" y="174.70" font-size="7" textLength="14.60" lengthAdjust="spacingAndGlyphs">RelA</text>
<rect x="459.00" y="178.20" width="8.60" height="4.20" fill="#6aa444"/>
<text x="470.60" y="182.70" font-size="7" textLength="21.40" lengthAdjust="spacingAndGlyphs">NFATc1</text>
<text x="9.00" y="269.90" font-size="12.6" font-weight="bold" textLength="6.00" lengthAdjust="spacingAndGlyphs" style="stroke:#000;stroke-width:0.4px;fill:#000">E</text>
<text x="87.10" y="271.20" font-size="7.9" text-anchor="middle" textLength="31.40" lengthAdjust="spacingAndGlyphs">HEK293T</text>
<line x1="44.40" y1="274.40" x2="130.40" y2="274.40" stroke="#404040" stroke-width="1.4"/>
<text x="87.40" y="284.00" font-size="6.6" text-anchor="middle" textLength="40.60" lengthAdjust="spacingAndGlyphs"><tspan font-style="italic">IL10</tspan> promoter</text>
<line x1="44.40" y1="285.80" x2="44.40" y2="346.00" stroke="#111" stroke-width="1.3"/>
<line x1="43.80" y1="345.40" x2="130.40" y2="345.40" stroke="#111" stroke-width="1.3"/>
<line x1="41.40" y1="345.40" x2="44.40" y2="345.40" stroke="#111" stroke-width="1.1"/>
<text x="38.50" y="347.40" font-size="6.6" text-anchor="end" textLength="3.50" lengthAdjust="spacingAndGlyphs">0</text>
<line x1="41.40" y1="326.40" x2="44.40" y2="326.40" stroke="#111" stroke-width="1.1"/>
<text x="38.50" y="328.40" font-size="6.6" text-anchor="end" textLength="3.50" lengthAdjust="spacingAndGlyphs">5</text>
<line x1="41.40" y1="307.40" x2="44.40" y2="307.40" stroke="#111" stroke-width="1.1"/>
<text x="38.50" y="309.40" font-size="6.6" text-anchor="end" textLength="7.00" lengthAdjust="spacingAndGlyphs">10</text>
<line x1="41.40" y1="288.40" x2="44.40" y2="288.40" stroke="#111" stroke-width="1.1"/>
<text x="38.50" y="290.40" font-size="6.6" text-anchor="end" textLength="7.00" lengthAdjust="spacingAndGlyphs">15</text>
<text x="26.20" y="351.50" font-size="8.3" textLength="72.00" lengthAdjust="spacingAndGlyphs" transform="rotate(-90 26.20 351.50)">Norm. luciferase activity</text>
<rect x="48.35" y="342.33" width="3.30" height="3.07" fill="#2e4a78" stroke="#1b356a" stroke-width="0.7"/>
<line x1="50.00" y1="341.98" x2="50.00" y2="341.60" stroke="#111" stroke-width="1.0"/>
<line x1="48.20" y1="341.60" x2="51.80" y2="341.60" stroke="#111" stroke-width="1.1"/>
<rect x="54.25" y="342.33" width="3.70" height="3.07" fill="#a8042c" stroke="#94001f" stroke-width="0.7"/>
<line x1="56.10" y1="341.98" x2="56.10" y2="341.79" stroke="#111" stroke-width="1.0"/>
<line x1="54.30" y1="341.79" x2="57.90" y2="341.79" stroke="#111" stroke-width="1.1"/>
<rect x="65.35" y="341.95" width="3.20" height="3.45" fill="#2e4a78" stroke="#1b356a" stroke-width="0.7"/>
<line x1="66.95" y1="341.60" x2="66.95" y2="340.84" stroke="#111" stroke-width="1.0"/>
<line x1="65.15" y1="340.84" x2="68.75" y2="340.84" stroke="#111" stroke-width="1.1"/>
<rect x="71.55" y="308.13" width="3.70" height="37.27" fill="#a8042c" stroke="#94001f" stroke-width="0.7"/>
<line x1="73.40" y1="307.78" x2="73.40" y2="305.88" stroke="#111" stroke-width="1.0"/>
<line x1="71.60" y1="305.88" x2="75.20" y2="305.88" stroke="#111" stroke-width="1.1"/>
<rect x="82.65" y="343.09" width="3.20" height="2.31" fill="#2e4a78" stroke="#1b356a" stroke-width="0.7"/>
<line x1="84.25" y1="342.74" x2="84.25" y2="342.36" stroke="#111" stroke-width="1.0"/>
<line x1="82.45" y1="342.36" x2="86.05" y2="342.36" stroke="#111" stroke-width="1.1"/>
<rect x="88.35" y="305.09" width="3.80" height="40.31" fill="#a8042c" stroke="#94001f" stroke-width="0.7"/>
<line x1="90.25" y1="304.74" x2="90.25" y2="303.60" stroke="#111" stroke-width="1.0"/>
<line x1="88.45" y1="303.60" x2="92.05" y2="303.60" stroke="#111" stroke-width="1.1"/>
<rect x="99.55" y="343.09" width="3.20" height="2.31" fill="#2e4a78" stroke="#1b356a" stroke-width="0.7"/>
<line x1="101.15" y1="342.74" x2="101.15" y2="342.36" stroke="#111" stroke-width="1.0"/>
<line x1="99.35" y1="342.36" x2="102.95" y2="342.36" stroke="#111" stroke-width="1.1"/>
<rect x="105.75" y="298.63" width="3.70" height="46.77" fill="#a8042c" stroke="#94001f" stroke-width="0.7"/>
<line x1="107.60" y1="298.28" x2="107.60" y2="294.10" stroke="#111" stroke-width="1.0"/>
<line x1="105.80" y1="294.10" x2="109.40" y2="294.10" stroke="#111" stroke-width="1.1"/>
<rect x="116.35" y="322.95" width="3.60" height="22.45" fill="#2e4a78" stroke="#1b356a" stroke-width="0.7"/>
<line x1="118.15" y1="322.60" x2="118.15" y2="321.65" stroke="#111" stroke-width="1.0"/>
<line x1="116.35" y1="321.65" x2="119.95" y2="321.65" stroke="#111" stroke-width="1.1"/>
<rect x="122.65" y="330.55" width="3.50" height="14.85" fill="#a8042c" stroke="#94001f" stroke-width="0.7"/>
<line x1="124.40" y1="330.20" x2="124.40" y2="328.30" stroke="#111" stroke-width="1.0"/>
<line x1="122.60" y1="328.30" x2="126.20" y2="328.30" stroke="#111" stroke-width="1.1"/>
<line x1="53.00" y1="345.40" x2="53.00" y2="348.00" stroke="#111" stroke-width="1.0"/>
<line x1="69.90" y1="345.40" x2="69.90" y2="348.00" stroke="#111" stroke-width="1.0"/>
<line x1="86.90" y1="345.40" x2="86.90" y2="348.00" stroke="#111" stroke-width="1.0"/>
<line x1="103.60" y1="345.40" x2="103.60" y2="348.00" stroke="#111" stroke-width="1.0"/>
<line x1="120.90" y1="345.40" x2="120.90" y2="348.00" stroke="#111" stroke-width="1.0"/>
<text x="52.90" y="357.00" font-size="6.8" text-anchor="middle" textLength="18.20" lengthAdjust="spacingAndGlyphs">Empty</text>
<text x="120.60" y="357.00" font-size="6.8" text-anchor="middle" textLength="12.80" lengthAdjust="spacingAndGlyphs">RelA</text>
<text x="88.60" y="364.40" font-size="6.8" text-anchor="middle" textLength="22.00" lengthAdjust="spacingAndGlyphs">NFATc1</text>
<polygon points="71.7,355.8 107.1,351.2 107.1,355.8" fill="#000"/>
<rect x="127.40" y="285.40" width="6.40" height="3.20" fill="#2e4a78"/>
<text x="136.70" y="289.40" font-size="7" textLength="25.40" lengthAdjust="spacingAndGlyphs">proximal</text>
<rect x="127.40" y="293.00" width="6.40" height="3.20" fill="#a8042c"/>
<text x="136.70" y="297.00" font-size="7" textLength="15.40" lengthAdjust="spacingAndGlyphs">distal</text>
<text x="178.70" y="269.90" font-size="12.6" font-weight="bold" textLength="6.00" lengthAdjust="spacingAndGlyphs" style="stroke:#000;stroke-width:0.4px;fill:#000">F</text>
<line x1="215.30" y1="286.00" x2="215.30" y2="345.60" stroke="#111" stroke-width="1.3"/>
<line x1="214.70" y1="345.00" x2="285.00" y2="345.00" stroke="#111" stroke-width="1.3"/>
<line x1="212.30" y1="345.00" x2="215.30" y2="345.00" stroke="#111" stroke-width="1.1"/>
<text x="209.40" y="347.00" font-size="6.6" text-anchor="end" textLength="3.50" lengthAdjust="spacingAndGlyphs">0</text>
<line x1="212.30" y1="326.20" x2="215.30" y2="326.20" stroke="#111" stroke-width="1.1"/>
<text x="209.40" y="328.20" font-size="6.6" text-anchor="end" textLength="3.50" lengthAdjust="spacingAndGlyphs">1</text>
<line x1="212.30" y1="307.40" x2="215.30" y2="307.40" stroke="#111" stroke-width="1.1"/>
<text x="209.40" y="309.40" font-size="6.6" text-anchor="end" textLength="3.50" lengthAdjust="spacingAndGlyphs">2</text>
<line x1="212.30" y1="288.60" x2="215.30" y2="288.60" stroke="#111" stroke-width="1.1"/>
<text x="209.40" y="290.60" font-size="6.6" text-anchor="end" textLength="3.50" lengthAdjust="spacingAndGlyphs">3</text>
<text x="249.20" y="271.40" font-size="7.9" text-anchor="middle" textLength="22.20" lengthAdjust="spacingAndGlyphs">U2932</text>
<line x1="215.30" y1="274.60" x2="283.30" y2="274.60" stroke="#404040" stroke-width="1.4"/>
<text x="249.80" y="284.60" font-size="6.6" text-anchor="middle" textLength="69.00" lengthAdjust="spacingAndGlyphs"><tspan font-style="italic">IL10</tspan> proximal promoter</text>
<text x="201.40" y="351.60" font-size="8.3" textLength="72.60" lengthAdjust="spacingAndGlyphs" transform="rotate(-90 201.40 351.60)">Norm. luciferase activity</text>
<rect x="219.95" y="326.55" width="14.00" height="18.45" fill="#a8042c" stroke="#94001f" stroke-width="0.7"/>
<line x1="226.95" y1="326.20" x2="226.95" y2="322.82" stroke="#111" stroke-width="1.0"/>
<line x1="225.15" y1="322.82" x2="228.75" y2="322.82" stroke="#111" stroke-width="1.1"/>
<line x1="226.95" y1="345.00" x2="226.95" y2="347.60" stroke="#111" stroke-width="1.0"/>
<rect x="242.55" y="298.35" width="14.50" height="46.65" fill="#2e4a78" stroke="#1b356a" stroke-width="0.7"/>
<line x1="249.80" y1="298.00" x2="249.80" y2="296.68" stroke="#111" stroke-width="1.0"/>
<line x1="248.00" y1="296.68" x2="251.60" y2="296.68" stroke="#111" stroke-width="1.1"/>
<line x1="249.80" y1="345.00" x2="249.80" y2="347.60" stroke="#111" stroke-width="1.0"/>
<rect x="265.65" y="330.31" width="14.50" height="14.69" fill="#6aa444" stroke="#559d2e" stroke-width="0.7"/>
<line x1="272.90" y1="329.96" x2="272.90" y2="325.64" stroke="#111" stroke-width="1.0"/>
<line x1="271.10" y1="325.64" x2="274.70" y2="325.64" stroke="#111" stroke-width="1.1"/>
<line x1="272.90" y1="345.00" x2="272.90" y2="347.60" stroke="#111" stroke-width="1.0"/>
<text x="226.70" y="357.00" font-size="6.8" text-anchor="middle" textLength="18.60" lengthAdjust="spacingAndGlyphs">Empty</text>
<text x="249.80" y="357.00" font-size="6.8" text-anchor="middle" textLength="13.20" lengthAdjust="spacingAndGlyphs">RelA</text>
<text x="273.00" y="357.00" font-size="6.8" text-anchor="middle" textLength="21.60" lengthAdjust="spacingAndGlyphs">NFATc1</text>
<line x1="324.10" y1="286.20" x2="324.10" y2="345.60" stroke="#111" stroke-width="1.3"/>
<line x1="323.50" y1="345.00" x2="393.30" y2="345.00" stroke="#111" stroke-width="1.3"/>
<line x1="321.10" y1="345.00" x2="324.10" y2="345.00" stroke="#111" stroke-width="1.1"/>
<text x="318.20" y="347.00" font-size="6.6" text-anchor="end" textLength="3.50" lengthAdjust="spacingAndGlyphs">0</text>
<line x1="321.10" y1="330.95" x2="324.10" y2="330.95" stroke="#111" stroke-width="1.1"/>
<text x="318.20" y="332.95" font-size="6.6" text-anchor="end" textLength="3.50" lengthAdjust="spacingAndGlyphs">5</text>
<line x1="321.10" y1="316.90" x2="324.10" y2="316.90" stroke="#111" stroke-width="1.1"/>
<text x="318.20" y="318.90" font-size="6.6" text-anchor="end" textLength="7.00" lengthAdjust="spacingAndGlyphs">10</text>
<line x1="321.10" y1="302.85" x2="324.10" y2="302.85" stroke="#111" stroke-width="1.1"/>
<text x="318.20" y="304.85" font-size="6.6" text-anchor="end" textLength="7.00" lengthAdjust="spacingAndGlyphs">15</text>
<line x1="321.10" y1="288.80" x2="324.10" y2="288.80" stroke="#111" stroke-width="1.1"/>
<text x="318.20" y="290.80" font-size="6.6" text-anchor="end" textLength="7.00" lengthAdjust="spacingAndGlyphs">20</text>
<text x="358.40" y="271.40" font-size="7.9" text-anchor="middle" textLength="22.60" lengthAdjust="spacingAndGlyphs">U2932</text>
<line x1="324.10" y1="274.60" x2="392.00" y2="274.60" stroke="#404040" stroke-width="1.4"/>
<text x="359.30" y="284.60" font-size="6.6" text-anchor="middle" textLength="59.00" lengthAdjust="spacingAndGlyphs"><tspan font-style="italic">IL10</tspan> distal promoter</text>
<text x="306.40" y="351.60" font-size="8.3" textLength="72.60" lengthAdjust="spacingAndGlyphs" transform="rotate(-90 306.40 351.60)">Norm. luciferase activity</text>
<rect x="329.05" y="342.82" width="14.50" height="2.18" fill="#a8042c" stroke="#94001f" stroke-width="0.7"/>
<line x1="336.30" y1="342.47" x2="336.30" y2="342.13" stroke="#111" stroke-width="1.0"/>
<line x1="334.50" y1="342.13" x2="338.10" y2="342.13" stroke="#111" stroke-width="1.1"/>
<line x1="336.30" y1="345.00" x2="336.30" y2="347.60" stroke="#111" stroke-width="1.0"/>
<rect x="351.65" y="322.87" width="14.70" height="22.13" fill="#2e4a78" stroke="#1b356a" stroke-width="0.7"/>
<line x1="359.00" y1="322.52" x2="359.00" y2="322.24" stroke="#111" stroke-width="1.0"/>
<line x1="357.20" y1="322.24" x2="360.80" y2="322.24" stroke="#111" stroke-width="1.1"/>
<line x1="359.00" y1="345.00" x2="359.00" y2="347.60" stroke="#111" stroke-width="1.0"/>
<rect x="374.65" y="308.26" width="14.50" height="36.74" fill="#6aa444" stroke="#559d2e" stroke-width="0.7"/>
<line x1="381.90" y1="307.91" x2="381.90" y2="304.25" stroke="#111" stroke-width="1.0"/>
<line x1="380.10" y1="304.25" x2="383.70" y2="304.25" stroke="#111" stroke-width="1.1"/>
<line x1="381.90" y1="345.00" x2="381.90" y2="347.60" stroke="#111" stroke-width="1.0"/>
<text x="336.20" y="357.00" font-size="6.8" text-anchor="middle" textLength="19.00" lengthAdjust="spacingAndGlyphs">Empty</text>
<text x="359.00" y="357.00" font-size="6.8" text-anchor="middle" textLength="14.00" lengthAdjust="spacingAndGlyphs">RelA</text>
<text x="381.50" y="357.00" font-size="6.8" text-anchor="middle" textLength="22.00" lengthAdjust="spacingAndGlyphs">NFATc1</text>
<rect x="398.40" y="276.40" width="8.60" height="4.20" fill="#a8042c"/>
<text x="410.30" y="280.90" font-size="7" textLength="19.60" lengthAdjust="spacingAndGlyphs">Empty</text>
<rect x="398.40" y="284.50" width="8.60" height="4.20" fill="#2e4a78"/>
<text x="410.30" y="289.00" font-size="7" textLength="14.60" lengthAdjust="spacingAndGlyphs">RelA</text>
<rect x="398.40" y="292.80" width="8.60" height="4.20" fill="#6aa444"/>
<text x="410.30" y="297.30" font-size="7" textLength="21.40" lengthAdjust="spacingAndGlyphs">NFATc1</text>
<text x="8.10" y="391.60" font-size="12.6" font-weight="bold" textLength="8.00" lengthAdjust="spacingAndGlyphs" style="stroke:#000;stroke-width:0.4px;fill:#000">G</text>
<text x="87.50" y="392.00" font-size="7.9" text-anchor="middle" textLength="31.70" lengthAdjust="spacingAndGlyphs">HEK293T</text>
<line x1="45.10" y1="395.40" x2="129.40" y2="395.40" stroke="#404040" stroke-width="1.4"/>
<text x="87.20" y="404.20" font-size="6.6" text-anchor="middle" textLength="38.40" lengthAdjust="spacingAndGlyphs">IL6 promoter</text>
<line x1="44.70" y1="405.80" x2="44.70" y2="466.20" stroke="#111" stroke-width="1.3"/>
<line x1="44.10" y1="465.60" x2="129.40" y2="465.60" stroke="#111" stroke-width="1.3"/>
<line x1="41.70" y1="465.60" x2="44.70" y2="465.60" stroke="#111" stroke-width="1.1"/>
<text x="38.80" y="467.60" font-size="6.6" text-anchor="end" textLength="3.50" lengthAdjust="spacingAndGlyphs">0</text>
<line x1="41.70" y1="437.00" x2="44.70" y2="437.00" stroke="#111" stroke-width="1.1"/>
<text x="38.80" y="439.00" font-size="6.6" text-anchor="end" textLength="3.50" lengthAdjust="spacingAndGlyphs">5</text>
<line x1="41.70" y1="408.40" x2="44.70" y2="408.40" stroke="#111" stroke-width="1.1"/>
<text x="38.80" y="410.40" font-size="6.6" text-anchor="end" textLength="7.00" lengthAdjust="spacingAndGlyphs">10</text>
<text x="26.20" y="471.30" font-size="8.3" textLength="72.00" lengthAdjust="spacingAndGlyphs" transform="rotate(-90 26.20 471.30)">Norm. luciferase activity</text>
<rect x="46.85" y="460.23" width="6.10" height="5.37" fill="#a8042c" stroke="#94001f" stroke-width="0.7"/>
<line x1="49.90" y1="459.88" x2="49.90" y2="459.31" stroke="#111" stroke-width="1.0"/>
<line x1="48.10" y1="459.31" x2="51.70" y2="459.31" stroke="#111" stroke-width="1.1"/>
<line x1="49.90" y1="465.60" x2="49.90" y2="468.20" stroke="#111" stroke-width="1.0"/>
<rect x="57.00" y="460.57" width="7.30" height="5.03" fill="#a9b0d2"/>
<line x1="60.65" y1="460.57" x2="60.65" y2="459.71" stroke="#111" stroke-width="1.0"/>
<line x1="58.85" y1="459.71" x2="62.45" y2="459.71" stroke="#111" stroke-width="1.1"/>
<line x1="60.65" y1="465.60" x2="60.65" y2="468.20" stroke="#111" stroke-width="1.0"/>
<rect x="68.00" y="458.16" width="6.80" height="7.44" fill="#68779f"/>
<line x1="71.40" y1="458.16" x2="71.40" y2="457.59" stroke="#111" stroke-width="1.0"/>
<line x1="69.60" y1="457.59" x2="73.20" y2="457.59" stroke="#111" stroke-width="1.1"/>
<line x1="71.40" y1="465.60" x2="71.40" y2="468.20" stroke="#111" stroke-width="1.0"/>
<rect x="79.05" y="457.26" width="6.40" height="8.34" fill="#2e4a78" stroke="#1b356a" stroke-width="0.7"/>
<line x1="82.25" y1="456.91" x2="82.25" y2="456.62" stroke="#111" stroke-width="1.0"/>
<line x1="80.45" y1="456.62" x2="84.05" y2="456.62" stroke="#111" stroke-width="1.1"/>
<line x1="82.25" y1="465.60" x2="82.25" y2="468.20" stroke="#111" stroke-width="1.0"/>
<rect x="89.55" y="461.83" width="6.70" height="3.77" fill="#6aa444" stroke="#559d2e" stroke-width="0.7"/>
<line x1="92.90" y1="461.48" x2="92.90" y2="459.19" stroke="#111" stroke-width="1.0"/>
<line x1="91.10" y1="459.19" x2="94.70" y2="459.19" stroke="#111" stroke-width="1.1"/>
<line x1="92.90" y1="465.60" x2="92.90" y2="468.20" stroke="#111" stroke-width="1.0"/>
<rect x="100.20" y="447.87" width="6.80" height="17.73" fill="#a9b0d2"/>
<line x1="103.60" y1="447.87" x2="103.60" y2="447.58" stroke="#111" stroke-width="1.0"/>
<line x1="101.80" y1="447.58" x2="105.40" y2="447.58" stroke="#111" stroke-width="1.1"/>
<line x1="103.60" y1="465.60" x2="103.60" y2="468.20" stroke="#111" stroke-width="1.0"/>
<rect x="110.80" y="435.28" width="7.20" height="30.32" fill="#68779f"/>
<line x1="114.40" y1="435.28" x2="114.40" y2="432.42" stroke="#111" stroke-width="1.0"/>
<line x1="112.60" y1="432.42" x2="116.20" y2="432.42" stroke="#111" stroke-width="1.1"/>
<line x1="114.40" y1="465.60" x2="114.40" y2="468.20" stroke="#111" stroke-width="1.0"/>
<rect x="121.75" y="418.47" width="6.50" height="47.13" fill="#2e4a78" stroke="#1b356a" stroke-width="0.7"/>
<line x1="125.00" y1="418.12" x2="125.00" y2="408.97" stroke="#111" stroke-width="1.0"/>
<line x1="123.20" y1="408.97" x2="126.80" y2="408.97" stroke="#111" stroke-width="1.1"/>
<line x1="125.00" y1="465.60" x2="125.00" y2="468.20" stroke="#111" stroke-width="1.0"/>
<polygon points="59.8,474.5 82.9,471.9 82.9,474.5" fill="#000"/>
<polygon points="104.2,474.5 127.8,471.9 127.8,474.5" fill="#000"/>
<text x="70.70" y="483.40" font-size="6.8" text-anchor="middle" textLength="21.60" lengthAdjust="spacingAndGlyphs">NFATc1</text>
<text x="116.20" y="483.40" font-size="6.8" text-anchor="middle" textLength="21.60" lengthAdjust="spacingAndGlyphs">NFATc1</text>
<line x1="103.70" y1="486.00" x2="127.90" y2="486.00" stroke="#666" stroke-width="1.5"/>
<text x="115.60" y="493.60" font-size="6.8" text-anchor="middle" textLength="15.40" lengthAdjust="spacingAndGlyphs">c-Jun</text>
<text x="54.00" y="474.60" font-size="6.8" text-anchor="end" textLength="19.40" lengthAdjust="spacingAndGlyphs" transform="rotate(-48 54.00 474.60)">Empty</text>
<text x="96.40" y="473.40" font-size="6.8" text-anchor="end" textLength="14.60" lengthAdjust="spacingAndGlyphs" transform="rotate(-48 96.40 473.40)">c-Jun</text>
<text x="178.80" y="391.60" font-size="12.6" font-weight="bold" textLength="7.40" lengthAdjust="spacingAndGlyphs" style="stroke:#000;stroke-width:0.4px;fill:#000">H</text>
<text x="257.20" y="392.00" font-size="7.9" text-anchor="middle" textLength="22.40" lengthAdjust="spacingAndGlyphs">U2932</text>
<line x1="215.60" y1="395.40" x2="298.00" y2="395.40" stroke="#404040" stroke-width="1.4"/>
<text x="257.00" y="404.20" font-size="6.6" text-anchor="middle" textLength="38.00" lengthAdjust="spacingAndGlyphs"><tspan font-style="italic">IL6</tspan> promoter</text>
<line x1="215.60" y1="407.00" x2="215.60" y2="466.20" stroke="#111" stroke-width="1.3"/>
<line x1="215.00" y1="465.60" x2="296.20" y2="465.60" stroke="#111" stroke-width="1.3"/>
<line x1="212.60" y1="465.60" x2="215.60" y2="465.60" stroke="#111" stroke-width="1.1"/>
<text x="209.70" y="467.60" font-size="6.6" text-anchor="end" textLength="3.50" lengthAdjust="spacingAndGlyphs">0</text>
<line x1="212.60" y1="454.40" x2="215.60" y2="454.40" stroke="#111" stroke-width="1.1"/>
<text x="209.70" y="456.40" font-size="6.6" text-anchor="end" textLength="3.50" lengthAdjust="spacingAndGlyphs">2</text>
<line x1="212.60" y1="443.20" x2="215.60" y2="443.20" stroke="#111" stroke-width="1.1"/>
<text x="209.70" y="445.20" font-size="6.6" text-anchor="end" textLength="3.50" lengthAdjust="spacingAndGlyphs">4</text>
<line x1="212.60" y1="432.00" x2="215.60" y2="432.00" stroke="#111" stroke-width="1.1"/>
<text x="209.70" y="434.00" font-size="6.6" text-anchor="end" textLength="3.50" lengthAdjust="spacingAndGlyphs">6</text>
<line x1="212.60" y1="420.80" x2="215.60" y2="420.80" stroke="#111" stroke-width="1.1"/>
<text x="209.70" y="422.80" font-size="6.6" text-anchor="end" textLength="3.50" lengthAdjust="spacingAndGlyphs">8</text>
<line x1="212.60" y1="409.60" x2="215.60" y2="409.60" stroke="#111" stroke-width="1.1"/>
<text x="209.70" y="411.60" font-size="6.6" text-anchor="end" textLength="7.00" lengthAdjust="spacingAndGlyphs">10</text>
<text x="196.40" y="471.30" font-size="8.3" textLength="72.00" lengthAdjust="spacingAndGlyphs" transform="rotate(-90 196.40 471.30)">Norm. luciferase activity</text>
<rect x="219.35" y="460.63" width="13.10" height="4.97" fill="#a8042c" stroke="#94001f" stroke-width="0.7"/>
<line x1="225.90" y1="460.28" x2="225.90" y2="457.20" stroke="#111" stroke-width="1.0"/>
<line x1="224.10" y1="457.20" x2="227.70" y2="457.20" stroke="#111" stroke-width="1.1"/>
<line x1="225.90" y1="465.60" x2="225.90" y2="468.20" stroke="#111" stroke-width="1.0"/>
<rect x="240.05" y="459.79" width="13.20" height="5.81" fill="#2e4a78" stroke="#1b356a" stroke-width="0.7"/>
<line x1="246.65" y1="459.44" x2="246.65" y2="458.99" stroke="#111" stroke-width="1.0"/>
<line x1="244.85" y1="458.99" x2="248.45" y2="458.99" stroke="#111" stroke-width="1.1"/>
<line x1="246.65" y1="465.60" x2="246.65" y2="468.20" stroke="#111" stroke-width="1.0"/>
<rect x="261.05" y="460.07" width="13.30" height="5.53" fill="#6aa444" stroke="#559d2e" stroke-width="0.7"/>
<line x1="267.70" y1="459.72" x2="267.70" y2="457.20" stroke="#111" stroke-width="1.0"/>
<line x1="265.90" y1="457.20" x2="269.50" y2="457.20" stroke="#111" stroke-width="1.1"/>
<line x1="267.70" y1="465.60" x2="267.70" y2="468.20" stroke="#111" stroke-width="1.0"/>
<rect x="281.85" y="428.99" width="13.20" height="36.61" fill="#532962" stroke="#43165a" stroke-width="0.7"/>
<line x1="288.45" y1="428.64" x2="288.45" y2="421.92" stroke="#111" stroke-width="1.0"/>
<line x1="286.65" y1="421.92" x2="290.25" y2="421.92" stroke="#111" stroke-width="1.1"/>
<line x1="288.45" y1="465.60" x2="288.45" y2="468.20" stroke="#111" stroke-width="1.0"/>
<text x="229.60" y="474.80" font-size="6.8" text-anchor="end" textLength="19.60" lengthAdjust="spacingAndGlyphs" transform="rotate(-45 229.60 474.80)">Empty</text>
<text x="249.40" y="474.80" font-size="6.8" text-anchor="end" textLength="22.80" lengthAdjust="spacingAndGlyphs" transform="rotate(-45 249.40 474.80)">NFATc1</text>
<text x="271.00" y="474.80" font-size="6.8" text-anchor="end" textLength="16.00" lengthAdjust="spacingAndGlyphs" transform="rotate(-45 271.00 474.80)">c-Jun</text>
<text x="292.80" y="474.80" font-size="6.8" text-anchor="end" textLength="44.40" lengthAdjust="spacingAndGlyphs" transform="rotate(-45 292.80 474.80)">NFATc1+c-Jun</text>
<text x="347.40" y="391.00" font-size="12.6" font-weight="bold" textLength="2.20" lengthAdjust="spacingAndGlyphs" style="stroke:#000;stroke-width:0.4px;fill:#000">I</text>
<text x="428.30" y="394.10" font-size="7.8" text-anchor="middle" textLength="20.40" lengthAdjust="spacingAndGlyphs">HBL-1</text>
<text x="428.60" y="404.50" font-size="6.7" text-anchor="middle" textLength="37.40" lengthAdjust="spacingAndGlyphs">NFATc1 ChIP</text>
<line x1="381.80" y1="401.50" x2="381.80" y2="466.20" stroke="#111" stroke-width="1.3"/>
<line x1="381.20" y1="465.60" x2="475.60" y2="465.60" stroke="#111" stroke-width="1.3"/>
<line x1="378.80" y1="465.60" x2="381.80" y2="465.60" stroke="#111" stroke-width="1.1"/>
<text x="376.10" y="467.90" font-size="6.7" text-anchor="end" textLength="10.20" lengthAdjust="spacingAndGlyphs">0.0</text>
<line x1="378.80" y1="450.05" x2="381.80" y2="450.05" stroke="#111" stroke-width="1.1"/>
<text x="376.10" y="452.35" font-size="6.7" text-anchor="end" textLength="10.20" lengthAdjust="spacingAndGlyphs">0.5</text>
<line x1="378.80" y1="434.50" x2="381.80" y2="434.50" stroke="#111" stroke-width="1.1"/>
<text x="376.10" y="436.80" font-size="6.7" text-anchor="end" textLength="10.20" lengthAdjust="spacingAndGlyphs">1.0</text>
<line x1="378.80" y1="418.95" x2="381.80" y2="418.95" stroke="#111" stroke-width="1.1"/>
<text x="376.10" y="421.25" font-size="6.7" text-anchor="end" textLength="10.20" lengthAdjust="spacingAndGlyphs">1.5</text>
<line x1="378.80" y1="403.40" x2="381.80" y2="403.40" stroke="#111" stroke-width="1.1"/>
<text x="376.10" y="405.70" font-size="6.7" text-anchor="end" textLength="10.20" lengthAdjust="spacingAndGlyphs">2.0</text>
<text x="361.10" y="448.30" font-size="8.3" textLength="31.20" lengthAdjust="spacingAndGlyphs" transform="rotate(-90 361.10 448.30)">% of input</text>
<rect x="384.20" y="464.18" width="3.40" height="1.42" fill="#a8042c"/>
<rect x="389.10" y="464.18" width="3.40" height="1.42" fill="#2e4a78"/>
<rect x="394.20" y="449.74" width="3.40" height="15.86" fill="#6aa444"/>
<line x1="395.90" y1="449.74" x2="395.90" y2="448.50" stroke="#111" stroke-width="0.9"/>
<line x1="394.70" y1="448.50" x2="397.10" y2="448.50" stroke="#111" stroke-width="0.9"/>
<rect x="399.20" y="458.45" width="3.40" height="7.15" fill="#532962"/>
<line x1="400.90" y1="458.45" x2="400.90" y2="457.20" stroke="#111" stroke-width="0.9"/>
<line x1="399.70" y1="457.20" x2="402.10" y2="457.20" stroke="#111" stroke-width="0.9"/>
<rect x="407.20" y="464.18" width="3.40" height="1.42" fill="#a8042c"/>
<rect x="412.10" y="464.18" width="3.40" height="1.42" fill="#2e4a78"/>
<rect x="417.20" y="418.02" width="3.40" height="47.58" fill="#6aa444"/>
<line x1="418.90" y1="418.02" x2="418.90" y2="416.15" stroke="#111" stroke-width="0.9"/>
<line x1="417.70" y1="416.15" x2="420.10" y2="416.15" stroke="#111" stroke-width="0.9"/>
<rect x="422.20" y="449.74" width="3.40" height="15.86" fill="#532962"/>
<line x1="423.90" y1="449.74" x2="423.90" y2="449.12" stroke="#111" stroke-width="0.9"/>
<line x1="422.70" y1="449.12" x2="425.10" y2="449.12" stroke="#111" stroke-width="0.9"/>
<rect x="430.90" y="464.18" width="3.40" height="1.42" fill="#a8042c"/>
<rect x="435.80" y="464.18" width="3.40" height="1.42" fill="#2e4a78"/>
<rect x="440.90" y="458.14" width="3.40" height="7.46" fill="#6aa444"/>
<line x1="442.60" y1="458.14" x2="442.60" y2="456.89" stroke="#111" stroke-width="0.9"/>
<line x1="441.40" y1="456.89" x2="443.80" y2="456.89" stroke="#111" stroke-width="0.9"/>
<rect x="445.90" y="461.25" width="3.40" height="4.35" fill="#532962"/>
<line x1="447.60" y1="461.25" x2="447.60" y2="460.31" stroke="#111" stroke-width="0.9"/>
<line x1="446.40" y1="460.31" x2="448.80" y2="460.31" stroke="#111" stroke-width="0.9"/>
<rect x="454.70" y="464.49" width="3.40" height="1.11" fill="#a8042c"/>
<rect x="459.60" y="464.49" width="3.40" height="1.11" fill="#2e4a78"/>
<rect x="464.70" y="462.49" width="3.40" height="3.11" fill="#6aa444"/>
<line x1="466.40" y1="462.49" x2="466.40" y2="461.87" stroke="#111" stroke-width="0.9"/>
<line x1="465.20" y1="461.87" x2="467.60" y2="461.87" stroke="#111" stroke-width="0.9"/>
<rect x="469.70" y="463.42" width="3.40" height="2.18" fill="#532962"/>
<line x1="471.40" y1="463.42" x2="471.40" y2="462.80" stroke="#111" stroke-width="0.9"/>
<line x1="470.20" y1="462.80" x2="472.60" y2="462.80" stroke="#111" stroke-width="0.9"/>
<text x="393.30" y="477.60" font-size="6.8" text-anchor="middle" textLength="13.20" lengthAdjust="spacingAndGlyphs" font-style="italic">JUN</text>
<text x="417.00" y="477.60" font-size="6.8" text-anchor="middle" textLength="13.00" lengthAdjust="spacingAndGlyphs" font-style="italic">IL10</text>
<text x="440.10" y="477.60" font-size="6.8" text-anchor="middle" textLength="8.60" lengthAdjust="spacingAndGlyphs" font-style="italic">IL6</text>
<text x="463.50" y="477.60" font-size="6.8" text-anchor="middle" textLength="10.20" lengthAdjust="spacingAndGlyphs" font-style="italic">MB</text>
<rect x="461.30" y="405.10" width="6.50" height="3.00" fill="#a8042c"/>
<text x="471.00" y="408.80" font-size="6.6" textLength="9.80" lengthAdjust="spacingAndGlyphs">IgG</text>
<rect x="461.30" y="412.90" width="6.50" height="3.00" fill="#2e4a78"/>
<text x="471.00" y="416.60" font-size="6.6" textLength="29.40" lengthAdjust="spacingAndGlyphs">IgG + CsA</text>
<rect x="461.30" y="420.30" width="6.50" height="3.00" fill="#6aa444"/>
<text x="471.00" y="424.00" font-size="6.6" textLength="22.00" lengthAdjust="spacingAndGlyphs">NFATc1</text>
<rect x="461.30" y="427.50" width="6.50" height="3.00" fill="#532962"/>
<text x="471.00" y="431.20" font-size="6.6" textLength="41.60" lengthAdjust="spacingAndGlyphs">NFATc1 + CsA</text>
<rect x="0.5" y="0.5" width="519" height="512" fill="none" stroke="#000" stroke-width="1.2"/>
</svg>
</body></html>
